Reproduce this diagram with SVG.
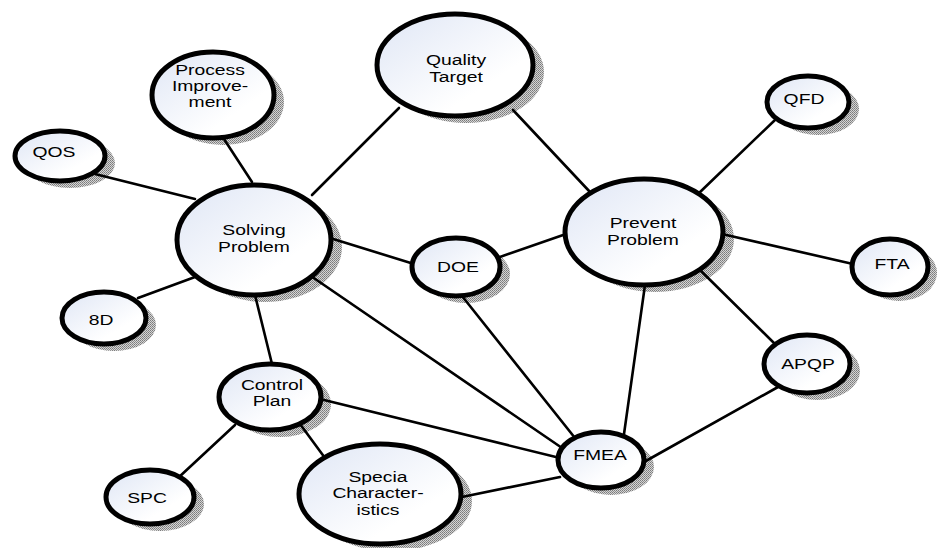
<svg xmlns="http://www.w3.org/2000/svg" width="938" height="548" viewBox="0 0 938 548">
  <defs>
    <linearGradient id="bubbleFill" x1="0" y1="0" x2="1" y2="1">
      <stop offset="0" stop-color="#dfe6f5"/>
      <stop offset="0.7" stop-color="#ffffff"/>
    </linearGradient>
    <pattern id="dots" width="2" height="2" patternUnits="userSpaceOnUse">
      <rect width="2" height="2" fill="#d4d4d4"/>
      <rect width="1" height="1" fill="#7a7a7a"/>
      <rect x="1" y="1" width="1" height="1" fill="#8c8c8c"/>
    </pattern>
  </defs>
  <style>
    .shadow { fill: url(#dots); }
    .bubble { fill: url(#bubbleFill); stroke: #000; stroke-width: 5; }
    .link { stroke: #000; stroke-width: 2.6; fill: none; stroke-linecap: round; }
    .label { font-family: "Liberation Sans", Arial, sans-serif; font-size: 14px; fill: #000; text-anchor: middle; }
  </style>

  <rect width="938" height="548" fill="#ffffff"/>

  <!-- drop shadows, offset down and to the right -->
  <g id="shadows">
    <ellipse class="shadow" cx="466" cy="72" rx="78" ry="51"/>
    <ellipse class="shadow" cx="265" cy="247" rx="77" ry="55"/>
    <ellipse class="shadow" cx="655" cy="239" rx="79" ry="53"/>
    <ellipse class="shadow" cx="223" cy="102" rx="61" ry="43"/>
    <ellipse class="shadow" cx="70" cy="163" rx="45" ry="25"/>
    <ellipse class="shadow" cx="114" cy="325" rx="42" ry="26"/>
    <ellipse class="shadow" cx="160" cy="504" rx="44" ry="27"/>
    <ellipse class="shadow" cx="280" cy="404" rx="51" ry="33"/>
    <ellipse class="shadow" cx="391" cy="501" rx="81" ry="50"/>
    <ellipse class="shadow" cx="611" cy="467" rx="43" ry="28"/>
    <ellipse class="shadow" cx="466" cy="274" rx="44" ry="29"/>
    <ellipse class="shadow" cx="817" cy="371" rx="43" ry="29"/>
    <ellipse class="shadow" cx="818" cy="109" rx="41" ry="26"/>
    <ellipse class="shadow" cx="899" cy="273" rx="38" ry="28"/>
  </g>

  <g id="connectors">
    <line class="link" x1="399" y1="108" x2="312" y2="195"/>
    <line class="link" x1="513" y1="110" x2="590" y2="192"/>
    <line class="link" x1="222" y1="136" x2="252" y2="182"/>
    <line class="link" x1="95" y1="174" x2="195" y2="199"/>
    <line class="link" x1="138" y1="298" x2="195" y2="277"/>
    <line class="link" x1="330" y1="238" x2="414" y2="264"/>
    <line class="link" x1="497" y1="258" x2="566" y2="234"/>
    <line class="link" x1="305" y1="272" x2="565" y2="450"/>
    <line class="link" x1="462" y1="296" x2="575" y2="438"/>
    <line class="link" x1="645" y1="285" x2="624" y2="434"/>
    <line class="link" x1="698" y1="194" x2="775" y2="120"/>
    <line class="link" x1="722" y1="234" x2="853" y2="264"/>
    <line class="link" x1="700" y1="270" x2="776" y2="345"/>
    <line class="link" x1="778" y1="387" x2="644" y2="462"/>
    <line class="link" x1="255" y1="295" x2="272" y2="364"/>
    <line class="link" x1="320" y1="399" x2="560" y2="458"/>
    <line class="link" x1="235" y1="425" x2="178" y2="478"/>
    <line class="link" x1="300" y1="424" x2="325" y2="458"/>
    <line class="link" x1="457" y1="498" x2="560" y2="477"/>
  </g>

  <g id="quality-target">
    <ellipse class="bubble" cx="455" cy="65" rx="78" ry="51"/>
    <text class="label" transform="translate(456 0) scale(1.38 1)" y="65">Quality</text>
    <text class="label" transform="translate(456 0) scale(1.38 1)" y="82">Target</text>
  </g>

  <g id="solving-problem">
    <ellipse class="bubble" cx="254" cy="240" rx="77" ry="55"/>
    <text class="label" transform="translate(254 0) scale(1.38 1)" y="235">Solving</text>
    <text class="label" transform="translate(254 0) scale(1.38 1)" y="252">Problem</text>
  </g>

  <g id="prevent-problem">
    <ellipse class="bubble" cx="644" cy="232" rx="79" ry="53"/>
    <text class="label" transform="translate(643 0) scale(1.38 1)" y="228">Prevent</text>
    <text class="label" transform="translate(643 0) scale(1.38 1)" y="245">Problem</text>
  </g>

  <g id="process-improvement">
    <ellipse class="bubble" cx="213" cy="95" rx="61" ry="43"/>
    <text class="label" transform="translate(210 0) scale(1.38 1)" y="75">Process</text>
    <text class="label" transform="translate(210 0) scale(1.38 1)" y="91">Improve-</text>
    <text class="label" transform="translate(210 0) scale(1.38 1)" y="107">ment</text>
  </g>

  <g id="qos">
    <ellipse class="bubble" cx="60" cy="156" rx="45" ry="25"/>
    <text class="label" transform="translate(54 0) scale(1.38 1)" y="157">QOS</text>
  </g>

  <g id="eight-d">
    <ellipse class="bubble" cx="104" cy="318" rx="42" ry="26"/>
    <text class="label" transform="translate(101 0) scale(1.38 1)" y="325">8D</text>
  </g>

  <g id="spc">
    <ellipse class="bubble" cx="150" cy="497" rx="44" ry="27"/>
    <text class="label" transform="translate(147 0) scale(1.38 1)" y="503">SPC</text>
  </g>

  <g id="control-plan">
    <ellipse class="bubble" cx="270" cy="397" rx="51" ry="33"/>
    <text class="label" transform="translate(272 0) scale(1.38 1)" y="390">Control</text>
    <text class="label" transform="translate(272 0) scale(1.38 1)" y="406">Plan</text>
  </g>

  <g id="special-characteristics">
    <ellipse class="bubble" cx="380" cy="494" rx="81" ry="50"/>
    <text class="label" transform="translate(378 0) scale(1.38 1)" y="482">Specia</text>
    <text class="label" transform="translate(378 0) scale(1.38 1)" y="498">Character-</text>
    <text class="label" transform="translate(378 0) scale(1.38 1)" y="515">istics</text>
  </g>

  <g id="fmea">
    <ellipse class="bubble" cx="601" cy="460" rx="43" ry="28"/>
    <text class="label" transform="translate(600 0) scale(1.38 1)" y="460">FMEA</text>
  </g>

  <g id="doe">
    <ellipse class="bubble" cx="456" cy="267" rx="44" ry="29"/>
    <text class="label" transform="translate(458 0) scale(1.38 1)" y="272">DOE</text>
  </g>

  <g id="apqp">
    <ellipse class="bubble" cx="807" cy="364" rx="43" ry="29"/>
    <text class="label" transform="translate(808 0) scale(1.38 1)" y="369">APQP</text>
  </g>

  <g id="qfd">
    <ellipse class="bubble" cx="808" cy="102" rx="41" ry="26"/>
    <text class="label" transform="translate(804 0) scale(1.38 1)" y="104">QFD</text>
  </g>

  <g id="fta">
    <ellipse class="bubble" cx="890" cy="267" rx="38" ry="28"/>
    <text class="label" transform="translate(892 0) scale(1.38 1)" y="269">FTA</text>
  </g>
</svg>
